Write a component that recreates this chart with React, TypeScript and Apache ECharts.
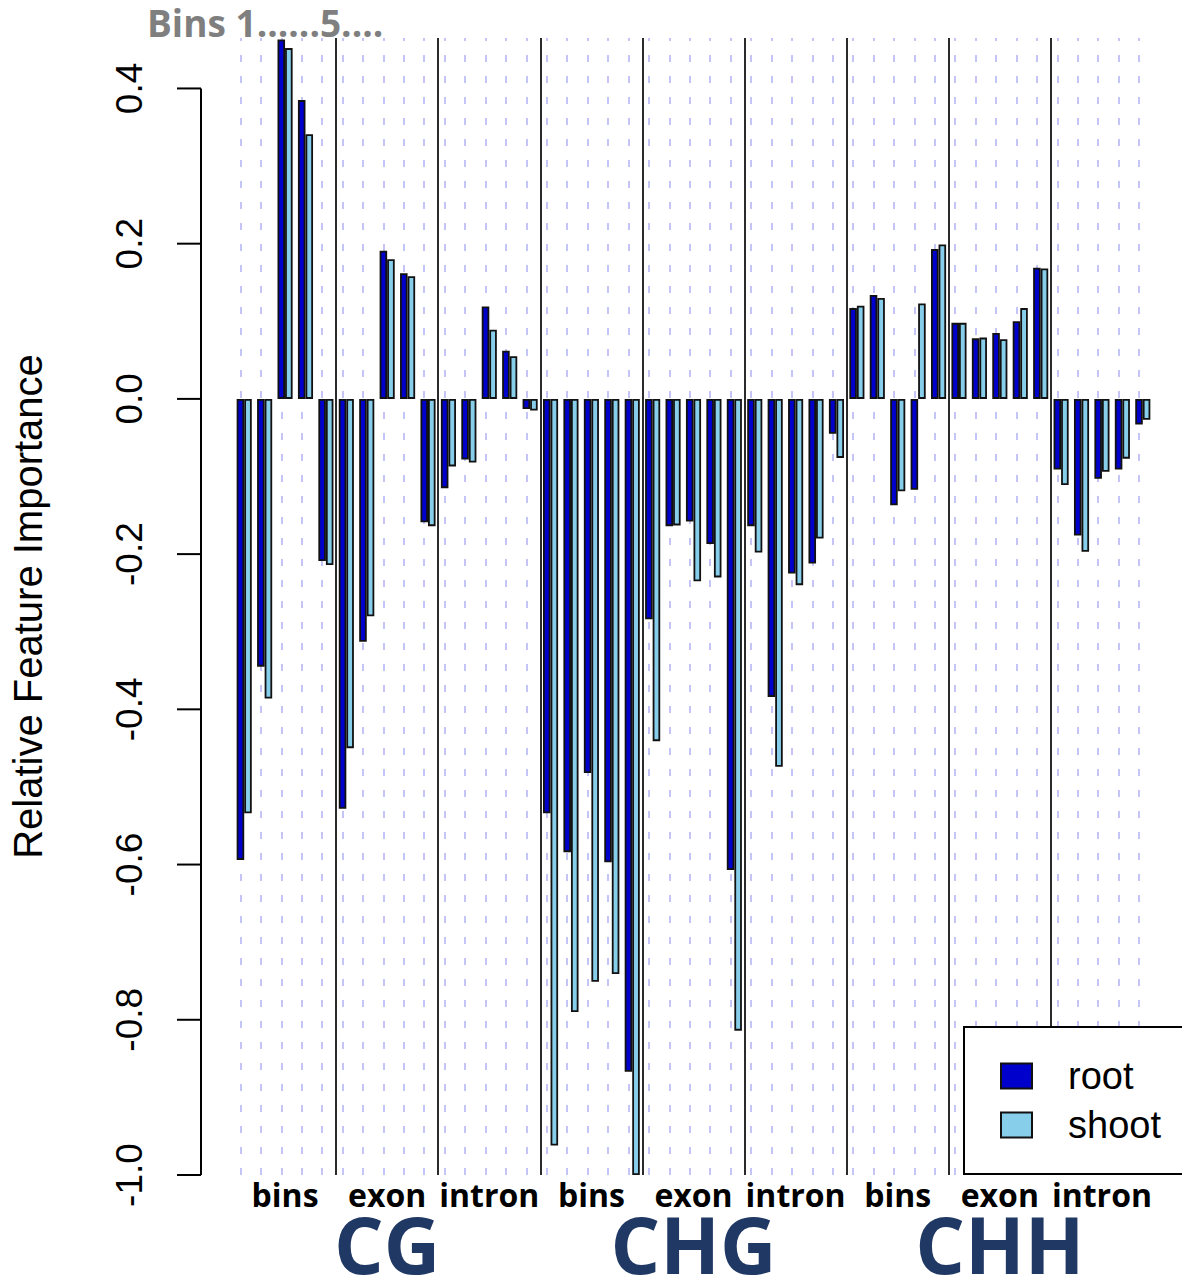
import React, { useEffect, useRef } from "react";
import * as echarts from "echarts";

// ---- data ----
const contexts = ["CG", "CHG", "CHH"];
const features = ["bins", "exon", "intron"];
const binNumbers = [1, 2, 3, 4, 5];
const seriesNames = ["root", "shoot"];

// 45 features: CG(bins1-5, exon1-5, intron1-5), CHG(...), CHH(...)
const rootValues = [
  -0.594, -0.345, 0.463, 0.385, -0.209,
  -0.528, -0.313, 0.191, 0.162, -0.159,
  -0.115, -0.078, 0.119, 0.062, -0.013,
  -0.534, -0.584, -0.482, -0.597, -0.867,
  -0.284, -0.164, -0.158, -0.187, -0.607,
  -0.164, -0.384, -0.225, -0.212, -0.045,
  0.117, 0.134, -0.137, -0.117, 0.193,
  0.098, 0.078, 0.085, 0.1, 0.169,
  -0.091, -0.176, -0.103, -0.091, -0.033,
];
const shootValues = [
  -0.534, -0.386, 0.452, 0.341, -0.214,
  -0.45, -0.28, 0.18, 0.158, -0.164,
  -0.087, -0.082, 0.089, 0.055, -0.015,
  -0.962, -0.79, -0.751, -0.741, -1.0,
  -0.441, -0.163, -0.235, -0.23, -0.814,
  -0.198, -0.474, -0.24, -0.18, -0.076,
  0.12, 0.13, -0.119, 0.123, 0.199,
  0.098, 0.079, 0.077, 0.117, 0.168,
  -0.111, -0.197, -0.094, -0.077, -0.027,
];

const yTicks = [-1.0, -0.8, -0.6, -0.4, -0.2, 0.0, 0.2, 0.4];
const yMin = -1.0;
const yMax = 0.465;
const yName = "Relative Feature Importance";
const topNote = "Bins 1......5....";

const featureCats = contexts.flatMap((c) => features.map((f) => `${c}|${f}`));
const binCats = featureCats.flatMap((fc) => binNumbers.map((b) => `${fc}|${b}`));

export default function App() {
  const ref = useRef<HTMLDivElement>(null);

  useEffect(() => {
    document.body.style.margin = "0";
    if (!ref.current) return;
    const chart = echarts.init(ref.current, undefined, { renderer: "svg" });

    const option: any = {
      animation: false,
      backgroundColor: "#ffffff",
      textStyle: { fontFamily: "Liberation Sans, Arial, sans-serif" },
      title: {
        text: topNote,
        left: 147,
        top: 4,
        padding: 0,
        textStyle: {
          fontFamily: "Open Sans",
          fontWeight: "bold",
          fontSize: 37,
          color: "#7f7f7f",
        },
      },
      legend: {
        data: seriesNames,
        orient: "vertical",
        left: 964,
        top: 1027,
        padding: [30, 60, 30, 36],
        itemWidth: 31,
        itemHeight: 25,
        itemGap: 11,
        icon: "rect",
        backgroundColor: "#ffffff",
        borderColor: "#000000",
        borderWidth: 2,
        z: 20,
        textStyle: {
          fontFamily: "Liberation Sans, Arial, sans-serif",
          fontSize: 38,
          color: "#000000",
          padding: [0, 0, 0, 31],
        },
      },
      grid: {
        left: 234,
        right: 29,
        top: 38,
        bottom: 104,
        containLabel: false,
        outerBoundsMode: "none",
      },
      xAxis: [
        {
          type: "category",
          data: binCats,
          position: "bottom",
          axisLine: { show: false },
          axisTick: { show: false },
          axisLabel: { show: false },
          splitLine: { show: false },
        },
        {
          type: "category",
          data: featureCats,
          position: "bottom",
          axisLine: { show: false },
          axisTick: { show: false },
          axisLabel: {
            interval: 0,
            formatter: (v: string) => v.split("|")[1],
            fontFamily: "Open Sans",
            fontWeight: "bold",
            fontSize: 32,
            lineHeight: 34,
            color: "#000000",
            margin: 2,
          },
          splitLine: {
            show: true,
            showMinLine: false,
            showMaxLine: false,
            lineStyle: { color: "#2b2b2b", width: 2 },
          },
        },
        {
          type: "category",
          data: contexts,
          position: "bottom",
          offset: 39,
          axisLine: { show: false },
          axisTick: { show: false },
          axisLabel: {
            interval: 0,
            fontFamily: "Open Sans",
            fontWeight: "bold",
            fontSize: 78,
            lineHeight: 60,
            color: "#203864",
            margin: 0,
          },
          splitLine: { show: false },
        },
      ],
      yAxis: {
        type: "value",
        min: yMin,
        max: yMax,
        interval: 0.2,
        axisLine: { show: false },
        axisTick: { show: false },
        splitLine: { show: false },
        axisLabel: {
          rotate: 90,
          fontSize: 37,
          color: "#000000",
          margin: 86,
          showMaxLabel: false,
          formatter: (v: number) => v.toFixed(1),
        },
        name: yName,
        nameLocation: "middle",
        nameGap: 186,
        nameTextStyle: { fontSize: 40, color: "#000000" },
      },
      series: [
        {
          name: seriesNames[0],
          type: "bar",
          xAxisIndex: 0,
          data: rootValues,
          barGap: "0%",
          barCategoryGap: "26%",
          itemStyle: { color: "#0000CD", borderColor: "#111111", borderWidth: 1.8 },
          markLine: {
            silent: true,
            symbol: ["none", "none"],
            z: 1,
            label: { show: false },
            lineStyle: { color: "#c4c4f6", width: 2, type: [7, 14] },
            data: binCats.map((c) => ({ xAxis: c })),
          },
        },
        {
          name: seriesNames[1],
          type: "bar",
          xAxisIndex: 0,
          data: shootValues,
          barGap: "0%",
          barCategoryGap: "26%",
          itemStyle: { color: "#87CEEB", borderColor: "#111111", borderWidth: 1.8 },
        },
      ],
    };

    chart.setOption(option);

    // R-style y axis line and ticks, placed through the value axis scale
    const axisX = 201;
    const toY = (v: number) => chart.convertToPixel({ yAxisIndex: 0 }, v) as number;
    const yTop = toY(yTicks[yTicks.length - 1]);
    const yBot = toY(yTicks[0]);
    const graphic: any[] = [
      {
        type: "line",
        shape: { x1: axisX, y1: yTop, x2: axisX, y2: yBot },
        style: { stroke: "#000000", lineWidth: 2 },
      },
      ...yTicks.map((t) => {
        const y = toY(t);
        return {
          type: "line",
          shape: { x1: axisX - 24, y1: y, x2: axisX, y2: y },
          style: { stroke: "#000000", lineWidth: 2 },
        };
      }),
    ];
    chart.setOption({ graphic });

    return () => chart.dispose();
  }, []);

  return <div ref={ref} style={{ width: 1182, height: 1279 }} />;
}
